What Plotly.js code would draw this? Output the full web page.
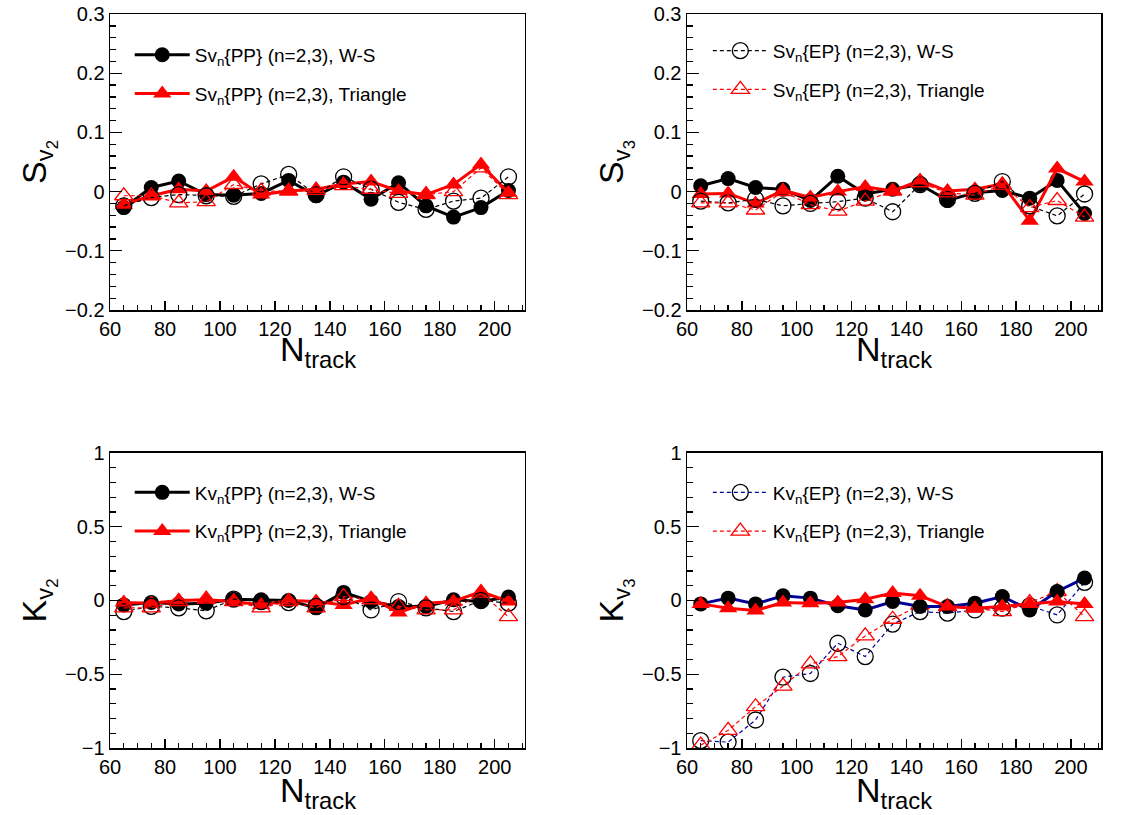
<!DOCTYPE html>
<html>
<head>
<meta charset="utf-8">
<script src="https://cdn.plot.ly/plotly-3.0.1.min.js"></script>
<style>
  body { margin: 0; background: white; }
  #plot { width: 1138px; height: 815px; }
</style>
</head>
<body>
<div id="plot"></div>
<script>
var nTrack = [65, 75, 85, 95, 105, 115, 125, 135, 145, 155, 165, 175, 185, 195, 205];

// S_v2
var sv2PP_WS  = [-0.027, 0.007, 0.018, -0.005, -0.006, -0.003, 0.019, -0.007, 0.016, -0.013, 0.015, -0.024, -0.043, -0.027, 0.002];
var sv2PP_Tri = [-0.022, -0.007, 0.004, 0.001, 0.025, -0.005, 0.001, 0.004, 0.013, 0.017, 0.001, -0.005, 0.012, 0.046, -0.002];
var sv2EP_WS  = [-0.024, -0.010, -0.005, -0.007, -0.008, 0.013, 0.029, -0.005, 0.025, 0.004, -0.018, -0.030, -0.016, -0.011, 0.025];
var sv2EP_Tri = [-0.007, -0.007, -0.019, -0.017, 0.012, 0.001, 0.001, 0.002, 0.010, 0.004, -0.003, -0.005, 0.000, 0.040, -0.005];

// S_v3
var sv3PP_WS  = [0.010, 0.022, 0.007, 0.004, -0.015, 0.026, -0.004, 0.004, 0.012, -0.015, -0.002, 0.002, -0.011, 0.019, -0.037];
var sv3PP_Tri = [-0.004, -0.003, -0.020, 0.002, -0.010, 0.000, 0.008, 0.001, 0.019, 0.001, 0.004, 0.013, -0.049, 0.039, 0.017];
var sv3EP_WS  = [-0.016, -0.019, -0.013, -0.024, -0.020, -0.017, -0.011, -0.034, 0.012, -0.013, -0.003, 0.017, -0.024, -0.041, -0.004];
var sv3EP_Tri = [-0.019, -0.019, -0.031, 0.000, -0.022, -0.033, -0.016, 0.001, 0.015, -0.002, -0.006, 0.011, -0.027, -0.015, -0.043];

// K_v2
var kv2PP_WS  = [-0.030, -0.014, -0.023, -0.018, 0.009, 0.005, 0.000, -0.050, 0.055, -0.007, -0.040, -0.040, 0.005, -0.007, 0.023];
var kv2PP_Tri = [-0.014, -0.018, 0.000, 0.005, -0.007, -0.030, 0.000, -0.007, -0.030, 0.016, -0.082, -0.018, -0.007, 0.061, -0.007];
var kv2EP_WS  = [-0.075, -0.040, -0.050, -0.070, 0.009, -0.007, -0.014, -0.040, 0.027, -0.064, -0.007, -0.050, -0.075, 0.000, -0.018];
var kv2EP_Tri = [-0.050, -0.050, -0.007, 0.009, -0.007, -0.050, -0.007, -0.050, 0.027, 0.005, -0.040, -0.064, -0.064, 0.050, -0.110];

// K_v3
var kv3PP_WS  = [-0.023, 0.016, -0.023, 0.032, 0.016, -0.036, -0.064, -0.007, -0.041, -0.041, -0.018, 0.027, -0.064, 0.061, 0.152];
var kv3PP_Tri = [-0.023, -0.052, -0.068, -0.014, -0.018, -0.014, 0.009, 0.050, 0.032, -0.041, -0.052, -0.041, -0.023, -0.007, -0.023];
var kv3EP_WS  = [-0.95, -0.96, -0.81, -0.52, -0.495, -0.29, -0.38, -0.16, -0.075, -0.086, -0.064, -0.052, -0.036, -0.098, 0.123];
var kv3EP_Tri = [-0.98, -0.88, -0.72, -0.58, -0.43, -0.38, -0.24, -0.127, -0.030, -0.041, -0.052, -0.075, -0.014, 0.061, -0.109];

var FONT = 'Liberation Sans, Arial, sans-serif';
var RED = '#ff0000';
var BLUE = '#000099';

function filled(y, name, color, symbol, panel, legend, show) {
  return {
    x: nTrack, y: y, name: name, type: 'scatter', mode: 'lines+markers',
    xaxis: 'x' + panel, yaxis: 'y' + panel,
    line: {color: color.line, width: 3},
    marker: {color: color.marker, symbol: symbol, size: symbol == 'circle' ? 15 : 16},
    legend: legend, legendgroup: name, showlegend: show
  };
}

function hollow(y, name, color, symbol, panel, legend, show) {
  return {
    x: nTrack, y: y, name: name, type: 'scatter', mode: 'lines+markers',
    xaxis: 'x' + panel, yaxis: 'y' + panel,
    line: {color: color.line, width: 1.2, dash: '4px,3px'},
    marker: {color: color.marker, symbol: symbol, size: 16, line: {width: 1.3}},
    legend: legend, legendgroup: name, showlegend: show
  };
}

var black = {line: 'black', marker: 'black'};
var red = {line: RED, marker: RED};
var blueBlack = {line: BLUE, marker: 'black'};

var data = [
  filled(sv2PP_WS, 'Sv<sub>n</sub>{PP} (n=2,3), W-S', black, 'circle', '', 'legend', true),
  filled(sv2PP_Tri, 'Sv<sub>n</sub>{PP} (n=2,3), Triangle', red, 'triangle-up', '', 'legend', true),
  hollow(sv2EP_WS, 'sv2ep_ws', black, 'circle-open', '', 'legend', false),
  hollow(sv2EP_Tri, 'sv2ep_tri', red, 'triangle-up-open', '', 'legend', false),

  filled(sv3PP_WS, 'sv3pp_ws', black, 'circle', '2', 'legend2', false),
  filled(sv3PP_Tri, 'sv3pp_tri', red, 'triangle-up', '2', 'legend2', false),
  hollow(sv3EP_WS, 'Sv<sub>n</sub>{EP} (n=2,3), W-S', black, 'circle-open', '2', 'legend2', true),
  hollow(sv3EP_Tri, 'Sv<sub>n</sub>{EP} (n=2,3), Triangle', red, 'triangle-up-open', '2', 'legend2', true),

  filled(kv2PP_WS, 'Kv<sub>n</sub>{PP} (n=2,3), W-S', black, 'circle', '3', 'legend3', true),
  filled(kv2PP_Tri, 'Kv<sub>n</sub>{PP} (n=2,3), Triangle', red, 'triangle-up', '3', 'legend3', true),
  hollow(kv2EP_WS, 'kv2ep_ws', black, 'circle-open', '3', 'legend3', false),
  hollow(kv2EP_Tri, 'kv2ep_tri', red, 'triangle-up-open', '3', 'legend3', false),

  hollow(kv3EP_WS, 'Kv<sub>n</sub>{EP} (n=2,3), W-S', blueBlack, 'circle-open', '4', 'legend4', true),
  hollow(kv3EP_Tri, 'Kv<sub>n</sub>{EP} (n=2,3), Triangle', red, 'triangle-up-open', '4', 'legend4', true),
  filled(kv3PP_WS, 'kv3pp_ws', blueBlack, 'circle', '4', 'legend4', false),
  filled(kv3PP_Tri, 'kv3pp_tri', red, 'triangle-up', '4', 'legend4', false)
];

function xAxis(domain, anchor) {
  return {
    domain: domain, anchor: anchor, range: [60, 211],
    tick0: 60, dtick: 20, ticks: 'inside', ticklen: 9, tickwidth: 1.3, tickcolor: 'black',
    minor: {dtick: 5, ticks: 'inside', ticklen: 5, tickwidth: 1.3, tickcolor: 'black'},
    showline: true, mirror: true, linecolor: 'black', linewidth: 1.5,
    showgrid: false, zeroline: false,
    tickfont: {family: FONT, size: 20, color: 'black'}
  };
}

function yAxis(domain, anchor, range, dtick, minor, title) {
  return {
    domain: domain, anchor: anchor, range: range, dtick: dtick,
    ticks: 'inside', ticklen: 12, tickwidth: 1.3, tickcolor: 'black',
    minor: {dtick: minor, ticks: 'inside', ticklen: 6, tickwidth: 1.3, tickcolor: 'black'},
    showline: true, mirror: true, linecolor: 'black', linewidth: 1.5,
    showgrid: false, zeroline: false,
    tickfont: {family: FONT, size: 20, color: 'black'},
    title: {text: title, font: {family: FONT, size: 34, color: 'black'}, standoff: 8}
  };
}

function legendBox(x, y) {
  return {
    x: x, y: y, xanchor: 'left', yanchor: 'top', bgcolor: 'rgba(0,0,0,0)',
    font: {family: FONT, size: 19, color: 'black'}, tracegroupgap: 11, itemwidth: 55
  };
}

function xTitle(x, y) {
  return {
    xref: 'paper', yref: 'paper', x: x, y: y, xanchor: 'center', yanchor: 'middle',
    showarrow: false, text: 'N<sub>track</sub>',
    font: {family: FONT, size: 34, color: 'black'}
  };
}

var xL = [0.0967, 0.4613], xR = [0.6037, 0.9675];
var yT = [0.6196, 0.9828], yB = [0.0822, 0.4442];

var layout = {
  width: 1138, height: 815,
  margin: {l: 0, r: 0, t: 0, b: 0},
  paper_bgcolor: 'white', plot_bgcolor: 'white',
  xaxis: xAxis(xL, 'y'),
  yaxis: yAxis(yT, 'x', [-0.2, 0.3], 0.1, 0.02, 'S<sub>v<sub>2</sub></sub>'),
  xaxis2: xAxis(xR, 'y2'),
  yaxis2: yAxis(yT, 'x2', [-0.2, 0.3], 0.1, 0.02, 'S<sub>v<sub>3</sub></sub>'),
  xaxis3: xAxis(xL, 'y3'),
  yaxis3: yAxis(yB, 'x3', [-1, 1], 0.5, 0.1, 'K<sub>v<sub>2</sub></sub>'),
  xaxis4: xAxis(xR, 'y4'),
  yaxis4: yAxis(yB, 'x4', [-1, 1], 0.5, 0.1, 'K<sub>v<sub>3</sub></sub>'),
  legend: legendBox(0.114, 0.956),
  legend2: legendBox(0.622, 0.961),
  legend3: legendBox(0.114, 0.419),
  legend4: legendBox(0.622, 0.419),
  annotations: [
    xTitle(0.279, 0.569),
    xTitle(0.786, 0.569),
    xTitle(0.279, 0.027),
    xTitle(0.786, 0.027)
  ],
  showlegend: true
};

Plotly.newPlot('plot', data, layout, {staticPlot: true});
</script>
</body>
</html>
